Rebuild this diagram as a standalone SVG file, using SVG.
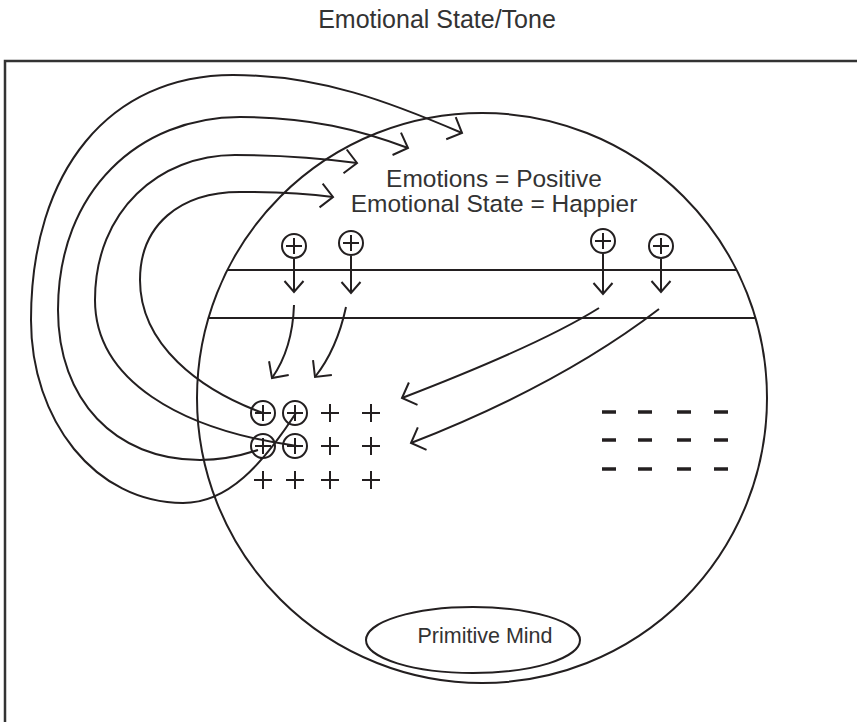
<svg xmlns="http://www.w3.org/2000/svg" xmlns:xlink="http://www.w3.org/1999/xlink" width="857" height="722" viewBox="0 0 857 722">
<style>
  .ln{fill:none;stroke:#231f20;stroke-width:2;}
  .frame{fill:none;stroke:#333;stroke-width:2.5;}
  .txt{font-family:"Liberation Sans",Arial,sans-serif;fill:#333;}
  .minus{stroke:#231f20;stroke-width:3.5;}
  .big{marker-end:url(#chev);}
  .down{marker-end:url(#chevS);}
</style>
<defs>
  <marker id="chev" markerUnits="userSpaceOnUse" viewBox="-20 -20 40 40" markerWidth="40" markerHeight="40" refX="0" refY="0" orient="auto" overflow="visible">
    <path d="M-12,-12 L0,0 L-12,12" fill="none" stroke="#231f20" stroke-width="2"/>
  </marker>
  <marker id="chevS" markerUnits="userSpaceOnUse" viewBox="-20 -20 40 40" markerWidth="40" markerHeight="40" refX="0" refY="0" orient="auto" overflow="visible">
    <path d="M-11,-9.5 L0,0 L-11,9.5" fill="none" stroke="#231f20" stroke-width="2"/>
  </marker>
  <g id="oplus" class="ln"><circle r="12"/><path d="M-8,0H8M0,-8V8"/></g>
  <path id="plus" class="ln" d="M-9,0H9M0,-9V9"/>
  <path id="minus" class="minus" d="M-7,0H7"/>
</defs>
<rect width="857" height="722" fill="#fff"/>

<g id="frame"><path class="frame" d="M5,722 V61 H857"/></g>
<g id="title"><text class="txt" x="437" y="28" font-size="25" text-anchor="middle">Emotional State/Tone</text></g>

<g id="mind">
  <circle class="ln" cx="482" cy="398" r="285"/>
</g>
<g id="bands">
  <line class="ln" x1="227" y1="270" x2="737" y2="270"/>
  <line class="ln" x1="208" y1="318" x2="756" y2="318"/>
</g>
<g id="emotions-label">
  <text class="txt" x="494" y="187" font-size="24.5" text-anchor="middle">Emotions = Positive</text>
  <text class="txt" x="494" y="212" font-size="24.5" text-anchor="middle">Emotional State = Happier</text>
</g>
<g id="primitive-mind">
  <ellipse class="ln" cx="473" cy="640" rx="107" ry="33"/>
  <text class="txt" x="485" y="643" font-size="21.5" text-anchor="middle">Primitive Mind</text>
</g>

<g id="top-positives">
  <use xlink:href="#oplus" x="294" y="246"/>
  <use xlink:href="#oplus" x="351" y="243"/>
  <use xlink:href="#oplus" x="603" y="241"/>
  <use xlink:href="#oplus" x="661" y="246"/>
</g>

<g id="positive-cluster">
  <use xlink:href="#oplus" x="263" y="413"/>
  <use xlink:href="#oplus" x="295" y="413"/>
  <use xlink:href="#oplus" x="263" y="446"/>
  <use xlink:href="#oplus" x="295" y="446"/>
  <use xlink:href="#plus" x="330" y="413"/>
  <use xlink:href="#plus" x="371" y="413"/>
  <use xlink:href="#plus" x="330" y="446"/>
  <use xlink:href="#plus" x="371" y="446"/>
  <use xlink:href="#plus" x="263" y="480"/>
  <use xlink:href="#plus" x="295" y="480"/>
  <use xlink:href="#plus" x="330" y="480"/>
  <use xlink:href="#plus" x="371" y="480"/>
</g>

<g id="negative-cluster">
  <use xlink:href="#minus" x="609" y="412"/>
  <use xlink:href="#minus" x="645" y="412"/>
  <use xlink:href="#minus" x="684" y="412"/>
  <use xlink:href="#minus" x="721" y="412"/>
  <use xlink:href="#minus" x="609" y="440"/>
  <use xlink:href="#minus" x="645" y="440"/>
  <use xlink:href="#minus" x="684" y="440"/>
  <use xlink:href="#minus" x="721" y="440"/>
  <use xlink:href="#minus" x="609" y="469"/>
  <use xlink:href="#minus" x="645" y="469"/>
  <use xlink:href="#minus" x="684" y="469"/>
  <use xlink:href="#minus" x="721" y="469"/>
</g>

<g id="connectors">
  <path class="ln down" d="M294,259 V292"/>
  <path class="ln down" d="M351,256 V293"/>
  <path class="ln down" d="M603,254 V294"/>
  <path class="ln down" d="M661,259 V292"/>
  <path class="ln big" d="M294,305 C293,335 286,358 272,378"/>
  <path class="ln big" d="M346,307 C340,335 330,358 315,377"/>
  <path class="ln big" d="M599,308 Q540,345 402,398"/>
  <path class="ln big" d="M659,309 Q560,385 411,443"/>
  <path class="ln big" d="M296,413 C262,465 228,503 183,503 C95,503 31,420 31,320 C31,170 110,75 233,75 C320,75 390,102 462,133"/>
  <path class="ln big" d="M258,450 C240,456 220,460 200,460 C115,460 58,400 58,310 C58,190 140,117 240,117 C310,117 360,130 408,148"/>
  <path class="ln big" d="M297,446 C180,430 95,380 95,300 C95,210 160,155 235,155 C280,155 320,158 357,163"/>
  <path class="ln big" d="M263,413 C200,390 140,345 140,280 C140,225 180,192 240,192 C280,192 310,194 333,197"/>
</g>
</svg>
